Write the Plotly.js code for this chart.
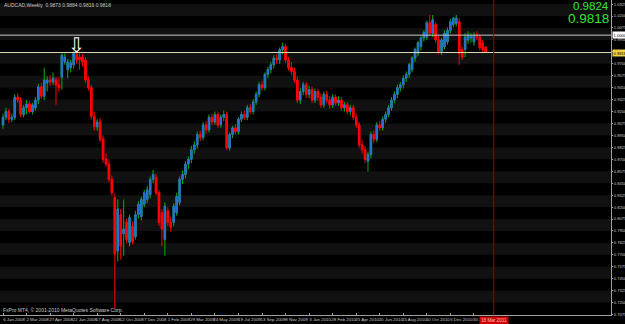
<!DOCTYPE html>
<html><head><meta charset="utf-8">
<script src="https://cdn.plot.ly/plotly-3.0.1.min.js"></script>
<style>html,body{margin:0;padding:0;background:#000;}#chart{width:625px;height:324px;}</style>
</head><body><div id="chart"></div>
<script>
// ---- data (AUDCAD, Weekly) ----
const open = [
.906,.914,.920,.912,.914,.935,.932,.917,.924,.928,.920,.924,.932,.946,.936,.950,.953,.951,.953,.948,
.956,.972,.964,.966,.969,.980,.977,.977,.974,.953,.945,.915,.904,.909,.891,.870,.865,.849,.830,.774,
.812,.792,.804,.783,.800,.789,.812,.810,.823,.828,.833,.849,.851,.835,.814,.786,.816,.804,.804,.814,
.825,.849,.854,.865,.870,.880,.885,.896,.893,.906,.901,.914,.909,.917,.906,.914,.917,.882,.896,.903,
.899,.912,.917,.914,.924,.920,.930,.938,.948,.945,.959,.964,.969,.976,.974,.985,.988,.974,.966,.962,
.953,.932,.941,.948,.938,.943,.932,.941,.935,.927,.938,.932,.927,.935,.929,.932,.924,.927,.920,.924,
.914,.906,.885,.880,.868,.875,.896,.891,.906,.903,.912,.917,.924,.932,.938,.945,.948,.955,.959,.964,
.976,.981,.988,.997,.998,1.013,1.002,1.011,.995,.983,.988,.993,1.005,1.011,1.012,1.014,.985,.985,.995,.997,
.993,1.000,.998,.992,.9873];
const high = [
.918,.924,.923,.918,.938,.939,.935,.927,.932,.931,.929,.935,.949,.950,.966,.957,.958,.961,.956,.956,
.981,.981,.975,.974,.983,.984,.981,.980,.977,.957,.948,.920,.912,.913,.895,.876,.870,.853,.834,.828,
.818,.828,.808,.812,.805,.816,.826,.831,.838,.842,.852,.859,.855,.838,.818,.825,.820,.810,.824,.835,
.852,.858,.868,.873,.884,.889,.899,.900,.909,.910,.917,.918,.920,.920,.917,.921,.920,.898,.905,.907,
.914,.920,.921,.927,.928,.933,.941,.951,.952,.961,.967,.972,.979,.980,.987,.992,.991,.977,.972,.966,
.957,.945,.951,.951,.947,.946,.944,.944,.939,.941,.942,.936,.938,.938,.936,.935,.930,.930,.927,.927,
.918,.909,.890,.884,.878,.899,.900,.909,.910,.915,.920,.927,.935,.941,.948,.951,.958,.962,.971,.978,
.987,.994,.999,1.005,1.015,1.021,1.021,1.014,.999,.997,1.005,1.008,1.017,1.019,1.021,1.018,.988,1.002,1.004,1.002,
1.003,1.004,1.001,.995,.9884];
const low = [
.902,.911,.908,.909,.911,.929,.914,.914,.917,.918,.917,.921,.928,.933,.932,.941,.947,.948,.927,.941,
.943,.969,.955,.961,.965,.970,.964,.967,.950,.942,.912,.900,.900,.888,.866,.862,.846,.832,.713,.763,
.765,.769,.782,.779,.781,.786,.808,.806,.820,.824,.829,.845,.832,.800,.779,.769,.800,.794,.800,.811,
.822,.844,.850,.860,.866,.876,.881,.889,.890,.897,.898,.906,.906,.903,.903,.910,.880,.879,.892,.896,
.896,.909,.911,.911,.917,.917,.927,.935,.942,.942,.955,.960,.965,.970,.970,.980,.971,.963,.958,.950,
.929,.928,.937,.934,.934,.929,.929,.931,.924,.924,.929,.923,.924,.926,.926,.921,.920,.917,.916,.911,
.903,.882,.876,.866,.857,.871,.887,.888,.900,.900,.908,.914,.921,.929,.934,.941,.944,.951,.955,.961,
.972,.978,.984,.993,.995,.999,.998,.992,.980,.979,.985,.990,1.002,1.008,1.009,.969,.974,.977,.991,.992,
.989,.995,.984,.982,.9816];
const close = [
.914,.920,.912,.914,.935,.932,.917,.924,.928,.920,.927,.932,.946,.936,.953,.953,.951,.955,.948,.945,
.979,.977,.972,.971,.981,.974,.974,.972,.953,.945,.915,.904,.909,.891,.870,.865,.849,.835,.771,.818,
.779,.797,.786,.809,.784,.812,.823,.828,.835,.838,.849,.854,.835,.804,.797,.821,.804,.799,.821,.831,
.849,.854,.865,.870,.880,.885,.896,.893,.906,.901,.914,.909,.917,.906,.914,.917,.882,.896,.903,.899,
.912,.917,.914,.924,.920,.930,.938,.948,.945,.959,.964,.969,.976,.974,.985,.988,.974,.966,.962,.953,
.932,.941,.948,.938,.943,.932,.941,.935,.927,.938,.932,.927,.935,.929,.932,.924,.927,.920,.924,.914,
.906,.885,.880,.870,.875,.896,.891,.906,.903,.912,.917,.924,.932,.938,.945,.948,.955,.959,.969,.976,
.985,.992,.997,1.003,1.013,1.002,1.016,.995,.983,.995,1.002,1.005,1.014,1.018,1.018,.981,.977,.998,1.000,.999,
1.000,.998,.987,.985,.9818];
const xTickDates = ['2008-01-06','2008-03-02','2008-04-27','2008-06-22','2008-08-17','2008-10-12','2008-12-07',
'2009-02-01','2009-03-29','2009-05-24','2009-07-19','2009-09-13','2009-11-08','2010-01-03','2010-02-28',
'2010-04-25','2010-06-20','2010-08-15','2010-10-10','2010-12-05','2011-01-30'];
const xTickText = ['6 Jan 2008','2 Mar 2008','27 Apr 2008','22 Jun 2008','17 Aug 2008','12 Oct 2008','7 Dec 2008',
'1 Feb 2009','29 Mar 2009','24 May 2009','19 Jul 2009','13 Sep 2009','8 Nov 2009','3 Jan 2010','28 Feb 2010',
'25 Apr 2010','20 Jun 2010','15 Aug 2010','10 Oct 2010','5 Dec 2010','30 Jan 2011'];
const yTickVals = [1.0325,1.0200,1.0075,0.9950,0.9825,0.9700,0.9575,0.9450,0.9325,0.9200,0.9075,0.8950,0.8825,
0.8700,0.8575,0.8450,0.8325,0.8200,0.8075,0.7950,0.7825,0.7700,0.7575,0.7450,0.7325,0.7200,0.7075];
const yTickText = ['1.0325','1.0200','1.0075','0.9950','0.9825','0.9700','0.9575','0.9450','0.9325','0.9200','0.9075',
'0.8950','0.8825','0.8700','0.8575','0.8450','0.8325','0.8200','0.8075','0.7950','0.7825','0.7700','0.7575','0.7450',
'0.7325','0.7200','0.7075'];
const headerText = 'AUDCAD,Weekly  0.9873 0.9884 0.9816 0.9818';
const copyrightText = 'FxPro MT4, \u00a9 2001-2010 MetaQuotes Software Corp.';
const bigLabels = ['0.9824', '0.9818'];
const levelParity = 1.0000;
const levelBid = 0.9818;
const vlineDate = '2011-03-18';
const vlineLabel = '18 Mar 2011';
const arrowDate = '2008-06-29';
const arrowPrice = 0.9895;

// ---- build ----
const t0 = Date.UTC(2008,0,6);
const dates = close.map((_, i) => new Date(t0 + i*7*864e5).toISOString().slice(0,10));
const bodyHigh = open.map((o,i) => Math.max(o, close[i]));
const bodyLow = open.map((o,i) => Math.min(o, close[i]));

const wicks = {
  type:'candlestick', x:dates, open:open, high:high, low:low, close:close,
  increasing:{line:{color:'#00b400', width:1}, fillcolor:'#00b400'},
  decreasing:{line:{color:'#ff0000', width:1}, fillcolor:'#ff0000'},
  hoverinfo:'skip', showlegend:false, whiskerwidth:0
};
const bodies = {
  type:'candlestick', x:dates, open:open, high:bodyHigh, low:bodyLow, close:close,
  increasing:{line:{color:'#2a6fd0', width:1}, fillcolor:'#2a6fd0'},
  decreasing:{line:{color:'#ff0000', width:1}, fillcolor:'#ff0000'},
  hoverinfo:'skip', showlegend:false, whiskerwidth:0
};

const shapes = [];
for (let i = 0; i + 1 < yTickVals.length; i += 2) {
  shapes.push({type:'rect', xref:'paper', x0:0, x1:1, yref:'y', y0:yTickVals[i+1], y1:yTickVals[i],
    fillcolor:'#111111', line:{width:0}, layer:'below'});
}
shapes.push({type:'line', xref:'paper', x0:0, x1:1, yref:'y', y0:levelParity, y1:levelParity, line:{color:'#c8c8c8', width:1}});
shapes.push({type:'line', xref:'paper', x0:0, x1:1, yref:'y', y0:levelBid, y1:levelBid, line:{color:'#d8d8b0', width:1}});
shapes.push({type:'line', xref:'x', x0:vlineDate, x1:vlineDate, yref:'paper', y0:0, y1:1, line:{color:'#a00000', width:1}});

const narrow = 'Liberation Sans Narrow, Arial Narrow, Liberation Sans, Arial';
const xfont = {family:narrow, size:4.4, color:'#c8c8c8'};
const yfont = {family:narrow, size:4.1, color:'#c8c8c8'};
const annotations = [
  {xref:'paper', yref:'paper', x:0.004, y:1, xanchor:'left', yanchor:'top', text:headerText, showarrow:false, font:{family:narrow, size:5, color:'#c8c8c8'}},
  {xref:'paper', yref:'paper', x:0.002, y:0, xanchor:'left', yanchor:'bottom', text:copyrightText, showarrow:false, font:{family:'Liberation Sans, Arial', size:5, color:'#c8c8c8'}},
  {xref:'paper', yref:'paper', x:0.998, y:1, xanchor:'right', yanchor:'top', yshift:1, text:bigLabels[0], showarrow:false, borderpad:0, font:{family:'Liberation Sans, Arial', size:11.5, color:'#33e633'}},
  {xref:'paper', yref:'paper', x:0.998, y:1, xanchor:'right', yanchor:'top', yshift:-10, text:bigLabels[1], showarrow:false, borderpad:0, font:{family:'Liberation Sans, Arial', size:13.5, color:'#33e633'}},
  {xref:'paper', yref:'y', x:1, y:levelParity, xanchor:'left', yanchor:'middle', xshift:1, text:levelParity.toFixed(4), showarrow:false, bgcolor:'#ffffff', borderpad:0.5, font:{family:narrow, size:4.1, color:'#000'}},
  {xref:'paper', yref:'y', x:1, y:levelBid, xanchor:'left', yanchor:'middle', xshift:1, text:levelBid.toFixed(4), showarrow:false, bgcolor:'#f0d048', borderpad:0.5, font:{family:narrow, size:4.1, color:'#000'}},
  {xref:'x', yref:'paper', x:vlineDate, y:0, xanchor:'center', yanchor:'top', yshift:-1, text:vlineLabel, showarrow:false, bgcolor:'#d00000', borderpad:1, font:{family:narrow, size:4.6, color:'#ffc0c0'}},
  {xref:'x', yref:'y', x:arrowDate, y:arrowPrice, xanchor:'center', yanchor:'middle', text:'\u21e9', showarrow:false, font:{family:'DejaVu Sans', size:20, color:'#ffffff'}}
];

const layout = {
  width:625, height:324,
  margin:{l:0, r:14, t:0, b:9, pad:0},
  paper_bgcolor:'#000', plot_bgcolor:'#000',
  showlegend:false,
  xaxis:{type:'date', range:['2007-12-29 21:00','2011-12-22'], rangeslider:{visible:false},
    tickmode:'array', tickvals:xTickDates, ticktext:xTickText, tickfont:xfont, tickangle:0,
    ticks:'inside', ticklen:2, tickcolor:'#a0a0a0', showgrid:false, zeroline:false,
    showline:true, linecolor:'#a0a0a0', linewidth:1, ticklabelshift:11, ticklabelstandoff:0, fixedrange:true},
  yaxis:{side:'right', range:[0.7070, 1.0368], tickmode:'array', tickvals:yTickVals, ticktext:yTickText, tickfont:yfont,
    ticks:'outside', ticklen:1, tickcolor:'#a0a0a0', showgrid:false, zeroline:false,
    showline:true, linecolor:'#a0a0a0', linewidth:1, ticklabelstandoff:0, fixedrange:true},
  shapes:shapes, annotations:annotations
};
Plotly.newPlot('chart', [wicks, bodies], layout, {displayModeBar:false, staticPlot:true});
</script></body></html>
